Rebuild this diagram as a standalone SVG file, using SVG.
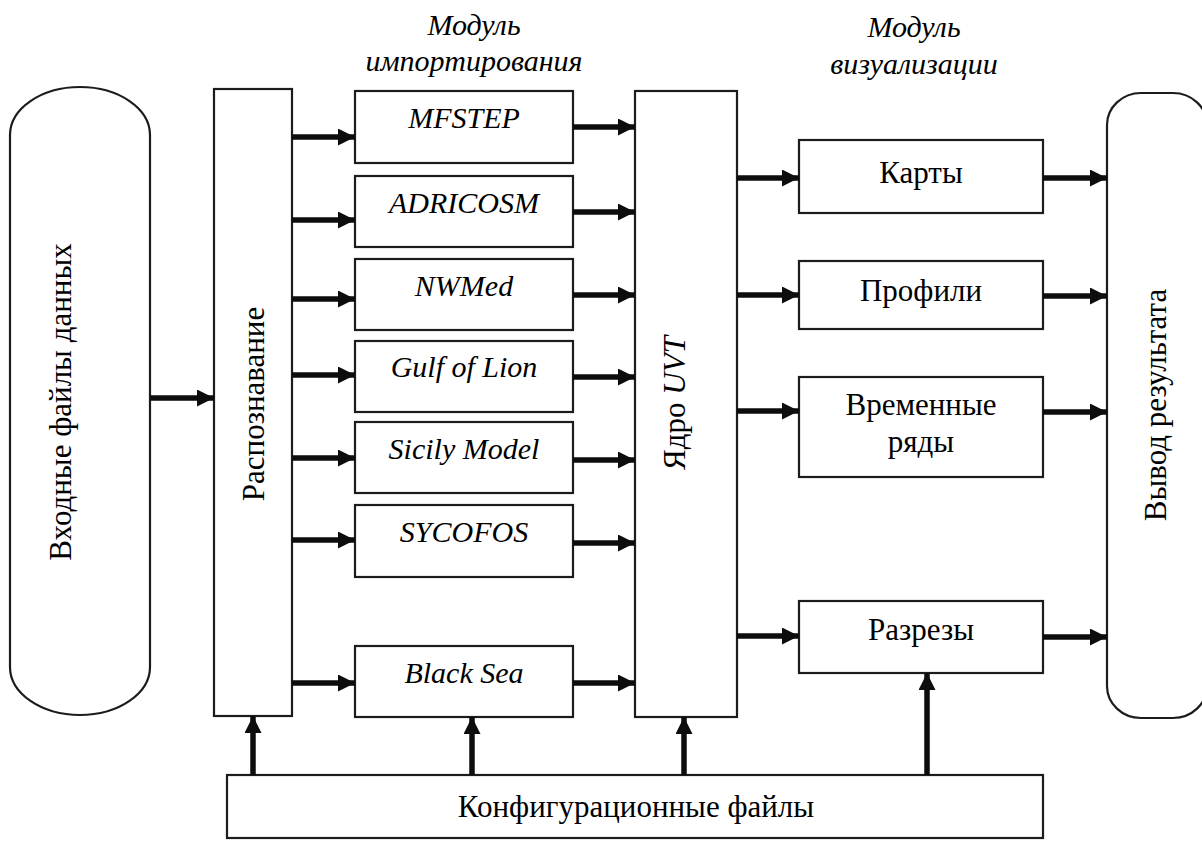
<svg xmlns="http://www.w3.org/2000/svg" width="1202" height="843" viewBox="0 0 1202 843">
<defs>
<marker id="ah" markerUnits="userSpaceOnUse" markerWidth="18" markerHeight="18" refX="17" refY="8.5" orient="auto">
<path d="M0,0 L17,8.5 L0,17 Z" fill="#0d0d0d"/>
</marker>
</defs>
<rect width="1202" height="843" fill="#fff"/>

<g id="hdr-import">
<text x="474" y="35" font-family="Times New Roman" font-size="30" font-style="italic" text-anchor="middle">Модуль</text>
<text x="474" y="71" font-family="Times New Roman" font-size="30" font-style="italic" text-anchor="middle">импортирования</text>
</g>
<g id="hdr-vis">
<text x="914" y="37" font-family="Times New Roman" font-size="30" font-style="italic" text-anchor="middle">Модуль</text>
<text x="914" y="74" font-family="Times New Roman" font-size="30" font-style="italic" text-anchor="middle">визуализации</text>
</g>

<g id="input">
<rect x="10" y="87" width="140" height="628" rx="70" ry="48" fill="#fff" stroke="#1c1c1c" stroke-width="2.2"/>
<text transform="translate(71,402) rotate(-90)" font-family="Times New Roman" font-size="31" text-anchor="middle">Входные файлы данных</text>
</g>
<g id="recognition">
<rect x="214" y="89" width="78" height="627" fill="#fff" stroke="#1c1c1c" stroke-width="2.2"/>
<text transform="translate(264,404) rotate(-90)" font-family="Times New Roman" font-size="31" text-anchor="middle">Распознавание</text>
</g>

<g id="mfstep"><rect x="355" y="91" width="218" height="72" fill="#fff" stroke="#1c1c1c" stroke-width="2.2"/><text x="464" y="128" font-family="Times New Roman" font-size="30" font-style="italic" text-anchor="middle">MFSTEP</text></g>
<g id="adricosm"><rect x="355" y="176" width="218" height="71" fill="#fff" stroke="#1c1c1c" stroke-width="2.2"/><text x="464" y="213" font-family="Times New Roman" font-size="30" font-style="italic" text-anchor="middle">ADRICOSM</text></g>
<g id="nwmed"><rect x="355" y="259" width="218" height="71" fill="#fff" stroke="#1c1c1c" stroke-width="2.2"/><text x="464" y="296" font-family="Times New Roman" font-size="30" font-style="italic" text-anchor="middle">NWMed</text></g>
<g id="gulf"><rect x="355" y="341" width="218" height="71" fill="#fff" stroke="#1c1c1c" stroke-width="2.2"/><text x="464" y="377" font-family="Times New Roman" font-size="30" font-style="italic" text-anchor="middle">Gulf of Lion</text></g>
<g id="sicily"><rect x="355" y="422" width="218" height="71" fill="#fff" stroke="#1c1c1c" stroke-width="2.2"/><text x="464" y="459" font-family="Times New Roman" font-size="30" font-style="italic" text-anchor="middle">Sicily Model</text></g>
<g id="sycofos"><rect x="355" y="505" width="218" height="72" fill="#fff" stroke="#1c1c1c" stroke-width="2.2"/><text x="464" y="542" font-family="Times New Roman" font-size="30" font-style="italic" text-anchor="middle">SYCOFOS</text></g>
<g id="blacksea"><rect x="355" y="646" width="218" height="71" fill="#fff" stroke="#1c1c1c" stroke-width="2.2"/><text x="464" y="683" font-family="Times New Roman" font-size="30" font-style="italic" text-anchor="middle">Black Sea</text></g>

<g id="core">
<rect x="635" y="91" width="102" height="626" fill="#fff" stroke="#1c1c1c" stroke-width="2.2"/>
<text transform="translate(685,403) rotate(-90)" font-family="Times New Roman" font-size="31" text-anchor="middle">Ядро <tspan font-style="italic">UVT</tspan></text>
</g>

<g id="maps"><rect x="799" y="140" width="244" height="73" fill="#fff" stroke="#1c1c1c" stroke-width="2.2"/><text x="921" y="183" font-family="Times New Roman" font-size="31" text-anchor="middle">Карты</text></g>
<g id="profiles"><rect x="799" y="261" width="244" height="68" fill="#fff" stroke="#1c1c1c" stroke-width="2.2"/><text x="921" y="301" font-family="Times New Roman" font-size="31" text-anchor="middle">Профили</text></g>
<g id="timeseries"><rect x="799" y="377" width="244" height="100" fill="#fff" stroke="#1c1c1c" stroke-width="2.2"/><text x="921" y="415" font-family="Times New Roman" font-size="31" text-anchor="middle">Временные</text><text x="921" y="452" font-family="Times New Roman" font-size="31" text-anchor="middle">ряды</text></g>
<g id="sections"><rect x="799" y="601" width="244" height="72" fill="#fff" stroke="#1c1c1c" stroke-width="2.2"/><text x="921" y="640" font-family="Times New Roman" font-size="31" text-anchor="middle">Разрезы</text></g>

<g id="output">
<rect x="1107" y="93" width="100" height="625" rx="34" ry="32" fill="#fff" stroke="#1c1c1c" stroke-width="2.2"/>
<text transform="translate(1166,405) rotate(-90)" font-family="Times New Roman" font-size="31" text-anchor="middle">Вывод результата</text>
</g>

<g id="config">
<rect x="227" y="775" width="816" height="63" fill="#fff" stroke="#1c1c1c" stroke-width="2.2"/>
<text x="636" y="817" font-family="Times New Roman" font-size="31" text-anchor="middle">Конфигурационные файлы</text>
</g>

<g id="connectors" stroke="#0d0d0d" stroke-width="5.5" marker-end="url(#ah)">
<line x1="150" y1="398" x2="214" y2="398"/>
<line x1="292" y1="137" x2="355" y2="137"/>
<line x1="292" y1="220" x2="355" y2="220"/>
<line x1="292" y1="299" x2="355" y2="299"/>
<line x1="292" y1="375" x2="355" y2="375"/>
<line x1="292" y1="458" x2="355" y2="458"/>
<line x1="292" y1="540" x2="355" y2="540"/>
<line x1="292" y1="683" x2="355" y2="683"/>
<line x1="573" y1="127" x2="635" y2="127"/>
<line x1="573" y1="212" x2="635" y2="212"/>
<line x1="573" y1="295" x2="635" y2="295"/>
<line x1="573" y1="377" x2="635" y2="377"/>
<line x1="573" y1="460" x2="635" y2="460"/>
<line x1="573" y1="543" x2="635" y2="543"/>
<line x1="573" y1="683" x2="635" y2="683"/>
<line x1="737" y1="178" x2="799" y2="178"/>
<line x1="737" y1="295" x2="799" y2="295"/>
<line x1="737" y1="411" x2="799" y2="411"/>
<line x1="737" y1="636" x2="799" y2="636"/>
<line x1="1043" y1="178" x2="1107" y2="178"/>
<line x1="1043" y1="296" x2="1107" y2="296"/>
<line x1="1043" y1="412" x2="1107" y2="412"/>
<line x1="1043" y1="637" x2="1107" y2="637"/>
<line x1="253" y1="775" x2="253" y2="716"/>
<line x1="472" y1="775" x2="472" y2="717"/>
<line x1="684" y1="775" x2="684" y2="717"/>
<line x1="927" y1="775" x2="927" y2="673"/>
</g>
</svg>
